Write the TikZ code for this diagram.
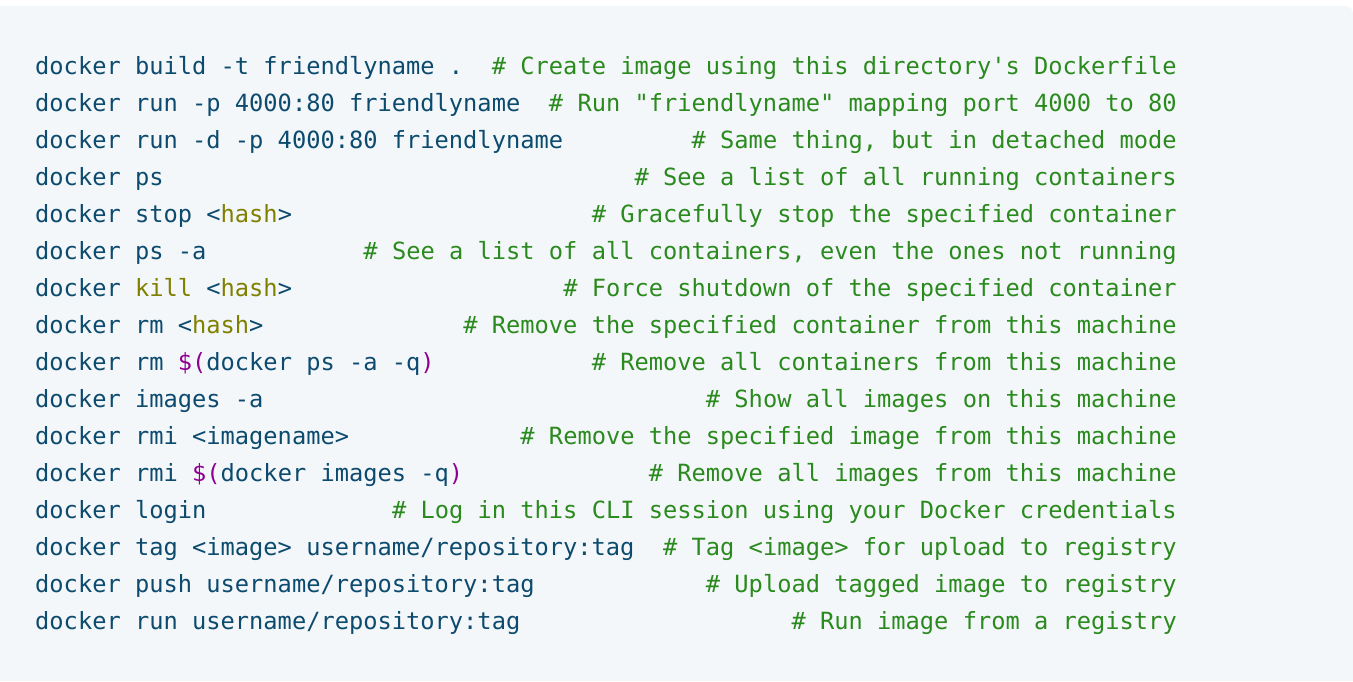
\documentclass[tikz,border=0pt]{standalone}
\usepackage{fontspec}
\newfontfamily\codefont{DejaVu Sans Mono}
\definecolor{panelbg}{HTML}{F4F7FA}
\definecolor{cmdc}{HTML}{0C4A6E}
\definecolor{cmtc}{HTML}{2A8A1E}
\definecolor{olivec}{HTML}{808000}
\definecolor{purpc}{HTML}{8F008F}
\newcommand{\ol}[1]{\textcolor{olivec}{#1}}
\newcommand{\pu}[1]{\textcolor{purpc}{#1}}
\tikzset{
  cmd/.style={anchor=base west, inner sep=0pt, text=cmdc, font=\codefont\fontsize{23.7}{28}\selectfont},
  cmt/.style={anchor=base east, inner sep=0pt, text=cmtc, font=\codefont\fontsize{23.7}{28}\selectfont}
}
\begin{document}
\begin{tikzpicture}[x=1pt,y=1pt]
\useasboundingbox (0,0) rectangle (1353,-681);
\fill[white] (0,0) rectangle (1353,-681);
\fill[panelbg] (0,-681) -- (0,-6) -- (1345,-6) arc[start angle=90,end angle=0,radius=8] -- (1353,-681) -- cycle;
\node[cmd] (c1) at (35,-74) {docker build -t friendlyname .};
\node[cmt] (m1) at (1177,-74) {\# Create image using this directory's Dockerfile};
\node[cmd] (c2) at (35,-111) {docker run -p 4000:80 friendlyname};
\node[cmt] (m2) at (1177,-111) {\# Run "friendlyname" mapping port 4000 to 80};
\node[cmd] (c3) at (35,-148) {docker run -d -p 4000:80 friendlyname};
\node[cmt] (m3) at (1177,-148) {\# Same thing, but in detached mode};
\node[cmd] (c4) at (35,-185) {docker ps};
\node[cmt] (m4) at (1177,-185) {\# See a list of all running containers};
\node[cmd] (c5) at (35,-222) {docker stop <\ol{hash}>};
\node[cmt] (m5) at (1177,-222) {\# Gracefully stop the specified container};
\node[cmd] (c6) at (35,-259) {docker ps -a};
\node[cmt] (m6) at (1177,-259) {\# See a list of all containers, even the ones not running};
\node[cmd] (c7) at (35,-296) {docker \ol{kill} <\ol{hash}>};
\node[cmt] (m7) at (1177,-296) {\# Force shutdown of the specified container};
\node[cmd] (c8) at (35,-333) {docker rm <\ol{hash}>};
\node[cmt] (m8) at (1177,-333) {\# Remove the specified container from this machine};
\node[cmd] (c9) at (35,-370) {docker rm \pu{\$(}docker ps -a -q\pu{)}};
\node[cmt] (m9) at (1177,-370) {\# Remove all containers from this machine};
\node[cmd] (c10) at (35,-407) {docker images -a};
\node[cmt] (m10) at (1177,-407) {\# Show all images on this machine};
\node[cmd] (c11) at (35,-444) {docker rmi <imagename>};
\node[cmt] (m11) at (1177,-444) {\# Remove the specified image from this machine};
\node[cmd] (c12) at (35,-481) {docker rmi \pu{\$(}docker images -q\pu{)}};
\node[cmt] (m12) at (1177,-481) {\# Remove all images from this machine};
\node[cmd] (c13) at (35,-518) {docker login};
\node[cmt] (m13) at (1177,-518) {\# Log in this CLI session using your Docker credentials};
\node[cmd] (c14) at (35,-555) {docker tag <image> username/repository:tag};
\node[cmt] (m14) at (1177,-555) {\# Tag <image> for upload to registry};
\node[cmd] (c15) at (35,-592) {docker push username/repository:tag};
\node[cmt] (m15) at (1177,-592) {\# Upload tagged image to registry};
\node[cmd] (c16) at (35,-629) {docker run username/repository:tag};
\node[cmt] (m16) at (1177,-629) {\# Run image from a registry};
\end{tikzpicture}
\end{document}
